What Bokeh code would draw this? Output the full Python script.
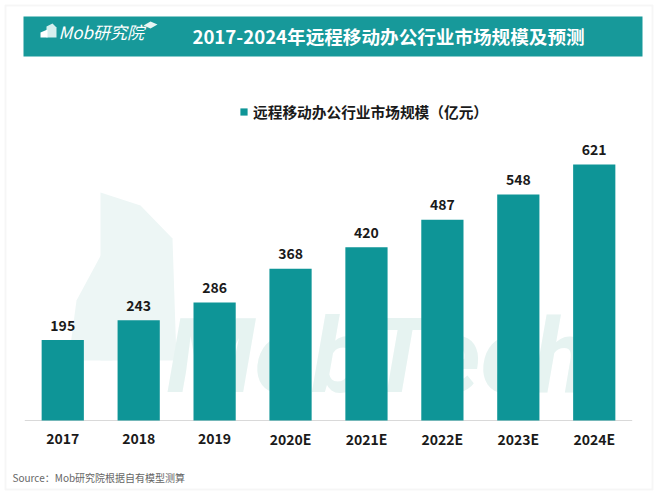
from bokeh.plotting import figure
from bokeh.models import (ColumnDataSource, FactorRange, Range1d, Label, LabelSet,
                          BoxAnnotation, PolyAnnotation, Legend, LegendItem)
from bokeh.core.properties import value
from bokeh.embed import file_html
from bokeh.resources import INLINE

# ---- data ----
categories = ["2017", "2018", "2019", "2020E", "2021E", "2022E", "2023E", "2024E"]
market_size = [195, 243, 286, 368, 420, 487, 548, 621]
series_name = "远程移动办公行业市场规模（亿元）"
title_text = "2017-2024年远程移动办公行业市场规模及预测"
logo_text = "Mob研究院"
source_text = "Source：Mob研究院根据自有模型测算"
watermark_text = "MobTech"

# ---- geometry ----
W, H = 660, 495
FR = 4                 # right border outside the frame
BASE_Y = 420           # page y of value 0
PX_PER_UNIT = 256 / 621.0


def sx(px):
    return px


def sy(py):
    return H - py


CJK = "Noto Sans CJK SC"
TEAL = "#0e9597"
HEADER = "#17999a"
DARK = "#1a1a1a"

src = ColumnDataSource(dict(cat=categories, val=market_size,
                            lab=[str(v) for v in market_size],
                            zero=[0] * len(categories)))

y_lo = -(H - BASE_Y) / PX_PER_UNIT
y_hi = BASE_Y / PX_PER_UNIT

p = figure(width=W, height=H, title=None,
           x_range=FactorRange(*categories, range_padding=0.32,
                               range_padding_units="absolute"),
           y_range=Range1d(y_lo, y_hi),
           output_backend="svg", toolbar_location=None,
           x_axis_location=None, y_axis_location=None,
           min_border_left=0, min_border_right=FR,
           min_border_top=0, min_border_bottom=0,
           background_fill_color="white", border_fill_color="white",
           outline_line_color=None)
p.grid.visible = False

# outer frame
p.add_layout(BoxAnnotation(left=sx(5), right=sx(652), top=sy(5), bottom=sy(489),
                           left_units="screen", right_units="screen",
                           top_units="screen", bottom_units="screen",
                           fill_alpha=0, line_color="#e0e0e0", line_width=2,
                           level="underlay"))

# watermark
for xs, ys in [([68, 76, 104, 112, 112], [360, 300, 248, 248, 360]),
               ([100, 100, 140, 172, 176, 100], [360, 192, 205, 238, 360, 360])]:
    p.add_layout(PolyAnnotation(xs=[sx(v) for v in xs], ys=[sy(v) for v in ys],
                                xs_units="screen", ys_units="screen",
                                fill_color="#edf6f5", fill_alpha=1, line_alpha=0,
                                level="underlay"))
p.add_layout(Label(x=sx(166), y=sy(356), x_units="screen", y_units="screen",
                   text=watermark_text, text_font="Roboto",
                   text_font_style="bold italic", text_font_size="104px",
                   text_color="#e6f3f1", text_baseline="alphabetic", level="underlay"))

# baseline (category axis line), spanning the category slots
p.segment(x0=[(categories[0], -0.5)], y0=[0], x1=[(categories[-1], 0.5)], y1=[0],
          line_color="#d9d9d9", line_width=1)

# bars
r = p.vbar(x="cat", top="val", width=0.556, source=src,
           fill_color=TEAL, line_color=None)

# value labels
p.add_layout(LabelSet(x="cat", y="val", text="lab", source=src,
                      text_align="center", text_baseline="middle", y_offset=15,
                      text_font=value(CJK), text_font_style="bold",
                      text_font_size="14px", text_color=DARK))

# category labels
p.add_layout(LabelSet(x="cat", y="zero", text="cat", source=src,
                      text_align="center", text_baseline="middle", y_offset=-18,
                      text_font=value(CJK), text_font_style="bold",
                      text_font_size="14px", text_color=DARK))

# header bar
p.add_layout(BoxAnnotation(left=sx(23), right=sx(642), top=sy(16), bottom=sy(56),
                           left_units="screen", right_units="screen",
                           top_units="screen", bottom_units="screen",
                           fill_color=HEADER, fill_alpha=1, line_alpha=0))
p.add_layout(Label(x=sx(388), y=sy(35), x_units="screen", y_units="screen",
                   text=title_text, text_align="center", text_baseline="middle",
                   text_font=CJK, text_font_style="bold",
                   text_font_size="18.6px", text_color="white"))
# logo
p.add_layout(PolyAnnotation(xs=[sx(v) for v in [46, 46, 52, 56, 56]],
                            ys=[sy(v) for v in [37, 26, 23, 27, 37]],
                            xs_units="screen", ys_units="screen",
                            fill_color="#d6efee", fill_alpha=1, line_alpha=0))
p.add_layout(PolyAnnotation(xs=[sx(v) for v in [40, 40, 47, 47]],
                            ys=[sy(v) for v in [37, 32, 29, 37]],
                            xs_units="screen", ys_units="screen",
                            fill_color="white", fill_alpha=1, line_alpha=0))
p.add_layout(PolyAnnotation(xs=[sx(v) for v in [143, 150, 157, 150]],
                            ys=[sy(v) for v in [25, 21, 24, 28]],
                            xs_units="screen", ys_units="screen",
                            fill_color="#e6f6f5", fill_alpha=1, line_alpha=0))
p.add_layout(Label(x=sx(58), y=sy(31), x_units="screen", y_units="screen",
                   text=logo_text, text_baseline="middle",
                   text_font=CJK, text_font_style="italic",
                   text_font_size="17px", text_color="white"))

# legend
legend = Legend(items=[LegendItem(label=series_name, renderers=[r])],
                location=(sx(239), sy(122)), orientation="horizontal",
                glyph_width=9, glyph_height=9, label_standoff=5,
                padding=0, margin=0, border_line_color=None,
                background_fill_alpha=0,
                label_text_font=CJK, label_text_font_style="bold",
                label_text_font_size="14.7px", label_text_color=DARK)
p.add_layout(legend)

# source
p.add_layout(Label(x=sx(12), y=sy(477), x_units="screen", y_units="screen",
                   text=source_text, text_baseline="middle",
                   text_font=CJK, text_font_size="10px",
                   text_color="#666666"))

open("out.html", "w").write(file_html(p, INLINE))
